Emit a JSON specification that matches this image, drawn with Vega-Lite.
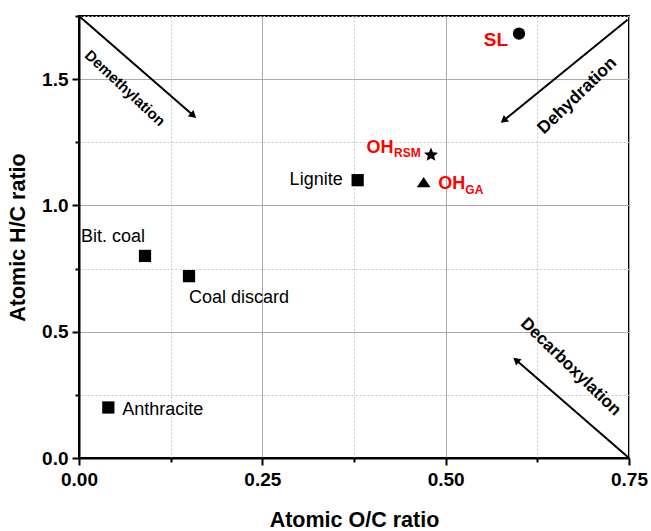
{
  "$schema": "https://vega.github.io/schema/vega-lite/v6.json",
  "width": 550,
  "height": 442,
  "autosize": {"type": "none"},
  "padding": {"left": 79, "top": 16, "right": 22, "bottom": 73},
  "background": "white",
  "config": {
    "font": "Liberation Sans",
    "view": {"stroke": "black", "strokeWidth": 2},
    "axis": {
      "domainColor": "black",
      "domainWidth": 2,
      "tickColor": "black",
      "tickWidth": 2,
      "labelFont": "Liberation Sans",
      "labelFontWeight": "bold",
      "labelFontSize": 19,
      "labelColor": "black",
      "titleFont": "Liberation Sans",
      "titleFontWeight": "bold",
      "titleFontSize": 21.5,
      "titleColor": "black"
    }
  },
  "datasets": {
    "samples": [
      {"name": "Anthracite", "oc": 0.04, "hc": 0.2, "type": "coal"},
      {"name": "Bit. coal", "oc": 0.09, "hc": 0.8, "type": "coal"},
      {"name": "Coal discard", "oc": 0.15, "hc": 0.72, "type": "coal"},
      {"name": "Lignite", "oc": 0.38, "hc": 1.1, "type": "coal"},
      {"name": "OH_RSM", "oc": 0.48, "hc": 1.2, "type": "OH_RSM"},
      {"name": "OH_GA", "oc": 0.47, "hc": 1.09, "type": "OH_GA"},
      {"name": "SL", "oc": 0.6, "hc": 1.68, "type": "SL"}
    ],
    "arrows": [
      {"name": "Demethylation", "x": 0, "y": 1.75, "x2": 0.156, "y2": 1.356, "lx": 0.0627, "ly": 1.465},
      {"name": "Dehydration", "x": 0.748, "y": 1.735, "x2": 0.579, "y2": 1.336, "lx": 0.6795, "ly": 1.434},
      {"name": "Decarboxylation", "x": 0.75, "y": 0, "x2": 0.596, "y2": 0.388, "lx": 0.6705, "ly": 0.361}
    ]
  },
  "layer": [
    {
      "data": {"name": "samples"},
      "mark": {"type": "point", "filled": true, "color": "black", "opacity": 1, "size": 150},
      "encoding": {
        "x": {
          "field": "oc", "type": "quantitative",
          "scale": {"domain": [0, 0.75], "nice": false, "zero": false},
          "axis": {
            "title": "Atomic O/C ratio",
            "values": [0, 0.125, 0.25, 0.375, 0.5, 0.625, 0.75],
            "labelExpr": "datum.value % 0.25 == 0 ? format(datum.value, '.2f') : ''",
            "labelOverlap": false,
            "labelFlush": false,
            "labelPadding": 5,
            "titlePadding": 20,
            "tickSize": {"condition": {"test": "datum.value % 0.25 != 0", "value": 4}, "value": 7},
            "grid": true,
            "gridColor": {"condition": {"test": "datum.value % 0.25 != 0", "value": "#c8c8c8"}, "value": "#aaaaaa"},
            "gridDash": {"condition": {"test": "datum.value % 0.25 != 0", "value": [2, 2]}, "value": []},
            "gridWidth": 1
          }
        },
        "y": {
          "field": "hc", "type": "quantitative",
          "scale": {"domain": [0, 1.75], "nice": false, "zero": false},
          "axis": {
            "title": "Atomic H/C ratio",
            "values": [0, 0.25, 0.5, 0.75, 1, 1.25, 1.5, 1.75],
            "labelExpr": "datum.value % 0.5 == 0 ? format(datum.value, '.1f') : ''",
            "labelOverlap": false,
            "labelFlush": false,
            "labelPadding": 4,
            "titlePadding": 12,
            "tickSize": {"condition": {"test": "datum.value % 0.5 != 0", "value": 4}, "value": 7},
            "grid": true,
            "gridColor": {"condition": {"test": "datum.value % 0.5 != 0", "value": "#c8c8c8"}, "value": "#aaaaaa"},
            "gridDash": {"condition": {"test": "datum.value % 0.5 != 0", "value": [2, 2]}, "value": []},
            "gridWidth": 1
          }
        },
        "shape": {
          "field": "type", "type": "nominal",
          "scale": {"domain": ["coal", "SL", "OH_RSM", "OH_GA"], "range": ["square", "circle", "M0,-1.2L0.317,-0.437L1.141,-0.371L0.514,0.167L0.705,0.971L0,0.54L-0.705,0.971L-0.514,0.167L-1.141,-0.371L-0.317,-0.437Z", "M0,-0.95L1.12,0.75L-1.12,0.75Z"]},
          "legend": null
        }
      }
    },
    {
      "data": {"name": "arrows"},
      "mark": {"type": "rule", "color": "black", "strokeWidth": 2},
      "encoding": {
        "x": {"field": "x", "type": "quantitative"},
        "y": {"field": "y", "type": "quantitative"},
        "x2": {"field": "x2"},
        "y2": {"field": "y2"}
      }
    },
    {
      "data": {"name": "arrows"},
      "transform": [{"filter": "datum.name == 'Demethylation'"}],
      "mark": {"type": "point", "shape": "triangle-right", "filled": true, "color": "black", "opacity": 1, "size": 70, "angle": 41},
      "encoding": {"x": {"field": "x2", "type": "quantitative"}, "y": {"field": "y2", "type": "quantitative"}}
    },
    {
      "data": {"name": "arrows"},
      "transform": [{"filter": "datum.name == 'Dehydration'"}],
      "mark": {"type": "point", "shape": "triangle-right", "filled": true, "color": "black", "opacity": 1, "size": 70, "angle": 141},
      "encoding": {"x": {"field": "x2", "type": "quantitative"}, "y": {"field": "y2", "type": "quantitative"}}
    },
    {
      "data": {"name": "arrows"},
      "transform": [{"filter": "datum.name == 'Decarboxylation'"}],
      "mark": {"type": "point", "shape": "triangle-right", "filled": true, "color": "black", "opacity": 1, "size": 70, "angle": 221},
      "encoding": {"x": {"field": "x2", "type": "quantitative"}, "y": {"field": "y2", "type": "quantitative"}}
    },
    {
      "data": {"name": "arrows"},
      "transform": [{"filter": "datum.name == 'Demethylation'"}],
      "mark": {"type": "text", "angle": 43, "fontSize": 15, "fontWeight": "bold", "color": "black", "align": "center", "baseline": "middle"},
      "encoding": {"x": {"field": "lx", "type": "quantitative"}, "y": {"field": "ly", "type": "quantitative"}, "text": {"field": "name"}}
    },
    {
      "data": {"name": "arrows"},
      "transform": [{"filter": "datum.name == 'Dehydration'"}],
      "mark": {"type": "text", "angle": 316, "fontSize": 17.5, "fontWeight": "bold", "color": "black", "align": "center", "baseline": "middle"},
      "encoding": {"x": {"field": "lx", "type": "quantitative"}, "y": {"field": "ly", "type": "quantitative"}, "text": {"field": "name"}}
    },
    {
      "data": {"name": "arrows"},
      "transform": [{"filter": "datum.name == 'Decarboxylation'"}],
      "mark": {"type": "text", "angle": 44, "fontSize": 17, "fontWeight": "bold", "color": "black", "align": "center", "baseline": "middle"},
      "encoding": {"x": {"field": "lx", "type": "quantitative"}, "y": {"field": "ly", "type": "quantitative"}, "text": {"field": "name"}}
    },
    {
      "data": {"name": "samples"},
      "transform": [{"filter": "datum.name == 'Bit. coal'"}],
      "mark": {"type": "text", "fontSize": 18, "color": "black", "align": "left", "baseline": "middle", "dx": -64, "dy": -19},
      "encoding": {"x": {"field": "oc", "type": "quantitative"}, "y": {"field": "hc", "type": "quantitative"}, "text": {"field": "name"}}
    },
    {
      "data": {"name": "samples"},
      "transform": [{"filter": "datum.name == 'Coal discard'"}],
      "mark": {"type": "text", "fontSize": 18, "color": "black", "align": "left", "baseline": "middle", "dx": 0, "dy": 22},
      "encoding": {"x": {"field": "oc", "type": "quantitative"}, "y": {"field": "hc", "type": "quantitative"}, "text": {"field": "name"}}
    },
    {
      "data": {"name": "samples"},
      "transform": [{"filter": "datum.name == 'Anthracite'"}],
      "mark": {"type": "text", "fontSize": 18, "color": "black", "align": "left", "baseline": "middle", "dx": 14, "dy": 3},
      "encoding": {"x": {"field": "oc", "type": "quantitative"}, "y": {"field": "hc", "type": "quantitative"}, "text": {"field": "name"}}
    },
    {
      "data": {"name": "samples"},
      "transform": [{"filter": "datum.name == 'Lignite'"}],
      "mark": {"type": "text", "fontSize": 18, "color": "black", "align": "right", "baseline": "middle", "dx": -15, "dy": 0},
      "encoding": {"x": {"field": "oc", "type": "quantitative"}, "y": {"field": "hc", "type": "quantitative"}, "text": {"field": "name"}}
    },
    {
      "data": {"name": "samples"},
      "transform": [{"filter": "datum.name == 'SL'"}],
      "mark": {"type": "text", "fontSize": 19, "fontWeight": "bold", "color": "#ff0000", "align": "right", "baseline": "middle", "dx": -11, "dy": 6},
      "encoding": {"x": {"field": "oc", "type": "quantitative"}, "y": {"field": "hc", "type": "quantitative"}, "text": {"field": "name"}}
    },
    {
      "data": {"name": "samples"},
      "transform": [{"filter": "datum.name == 'OH_RSM'"}],
      "mark": {"type": "text", "fontSize": 18, "fontWeight": "bold", "color": "#ff0000", "align": "left", "baseline": "alphabetic", "dx": -64.6, "dy": -1.6},
      "encoding": {"x": {"field": "oc", "type": "quantitative"}, "y": {"field": "hc", "type": "quantitative"}, "text": {"value": "OH"}}
    },
    {
      "data": {"name": "samples"},
      "transform": [{"filter": "datum.name == 'OH_RSM'"}],
      "mark": {"type": "text", "fontSize": 12, "fontWeight": "bold", "color": "#ff0000", "align": "left", "baseline": "alphabetic", "dx": -37, "dy": 2.4},
      "encoding": {"x": {"field": "oc", "type": "quantitative"}, "y": {"field": "hc", "type": "quantitative"}, "text": {"value": "RSM"}}
    },
    {
      "data": {"name": "samples"},
      "transform": [{"filter": "datum.name == 'OH_GA'"}],
      "mark": {"type": "text", "fontSize": 18, "fontWeight": "bold", "color": "#ff0000", "align": "left", "baseline": "alphabetic", "dx": 14.7, "dy": 6.6},
      "encoding": {"x": {"field": "oc", "type": "quantitative"}, "y": {"field": "hc", "type": "quantitative"}, "text": {"value": "OH"}}
    },
    {
      "data": {"name": "samples"},
      "transform": [{"filter": "datum.name == 'OH_GA'"}],
      "mark": {"type": "text", "fontSize": 12, "fontWeight": "bold", "color": "#ff0000", "align": "left", "baseline": "alphabetic", "dx": 41.7, "dy": 11},
      "encoding": {"x": {"field": "oc", "type": "quantitative"}, "y": {"field": "hc", "type": "quantitative"}, "text": {"value": "GA"}}
    }
  ]
}
